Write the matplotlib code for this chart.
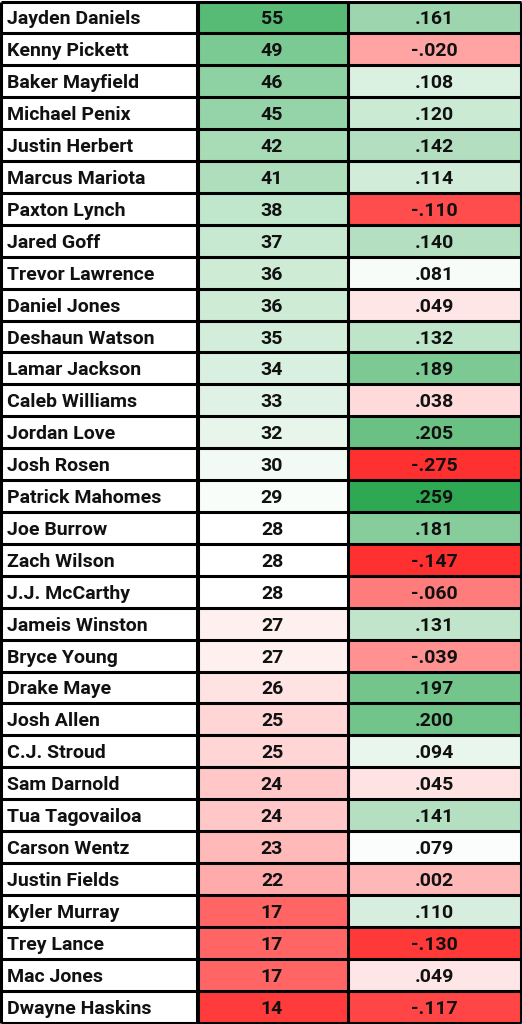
import matplotlib
matplotlib.use("Agg")
import matplotlib.pyplot as plt
import numpy as np
from matplotlib.colors import LinearSegmentedColormap, TwoSlopeNorm
from matplotlib.patches import Rectangle

names = ["Jayden Daniels","Kenny Pickett","Baker Mayfield","Michael Penix","Justin Herbert","Marcus Mariota",
 "Paxton Lynch","Jared Goff","Trevor Lawrence","Daniel Jones","Deshaun Watson","Lamar Jackson","Caleb Williams",
 "Jordan Love","Josh Rosen","Patrick Mahomes","Joe Burrow","Zach Wilson","J.J. McCarthy","Jameis Winston",
 "Bryce Young","Drake Maye","Josh Allen","C.J. Stroud","Sam Darnold","Tua Tagovailoa","Carson Wentz",
 "Justin Fields","Kyler Murray","Trey Lance","Mac Jones","Dwayne Haskins"]
col2 = [55,49,46,45,42,41,38,37,36,36,35,34,33,32,30,29,28,28,28,27,27,26,25,25,24,24,23,22,17,17,17,14]
col3 = [.161,-.020,.108,.120,.142,.114,-.110,.140,.081,.049,.132,.189,.038,.205,-.275,.259,.181,-.147,-.060,
 .131,-.039,.197,.200,.094,.045,.141,.079,.002,.110,-.130,.049,-.117]

cmap2 = LinearSegmentedColormap.from_list("c2", ["#ff3b3b", "#ffffff", "#57bb75"])
cmap3 = LinearSegmentedColormap.from_list("c3", ["#ff3030", "#ffffff", "#2ea852"])
norm2 = TwoSlopeNorm(vmin=14, vcenter=28, vmax=55)
norm3 = TwoSlopeNorm(vmin=-0.14, vcenter=0.075, vmax=0.259)

W, H = 522, 1024
fig = plt.figure(figsize=(W/100, H/100), dpi=100)
ax = fig.add_axes([0, 0, 1, 1])
ax.set_xlim(0, W); ax.set_ylim(H, 0); ax.axis("off")

n = len(names)
top, bot = 1.5, 1022.5
rh = (bot - top) / n
x0, x1, x2, x3 = 1, 196.5, 347.5, 520.5
font = dict(family=["Roboto", "DejaVu Sans"], fontweight="bold", fontsize=14, color="#111111")
for i in range(n):
    y = top + i * rh
    ax.add_patch(Rectangle((x1 + 1.5, y), x2 - x1 - 1.5, rh, facecolor=cmap2(norm2(col2[i])), edgecolor="none"))
    ax.add_patch(Rectangle((x2, y), x3 - x2, rh, facecolor=cmap3(float(np.clip(norm3(col3[i]), 0, 1))), edgecolor="none"))
    ax.text(7, y + rh/2 + 2, names[i], ha="left", va="center", **font)
    ax.text((x1 + x2)/2, y + rh/2 + 2, str(col2[i]), ha="center", va="center", **font)
    s = f"{col3[i]:.3f}".replace("0.", ".", 1)
    ax.text((x2 + x3)/2, y + rh/2 + 2, s, ha="center", va="center", **font)
for i in range(n + 1):
    y = top + i * rh
    ax.plot([x0, x3], [y, y], color="black", lw=2.2, solid_capstyle="butt")
for x in (x0, x1, x1 + 1.5, x2, x3):
    ax.plot([x, x], [top, bot], color="black", lw=2.2, solid_capstyle="butt")
fig.savefig("out.png", dpi=100)
